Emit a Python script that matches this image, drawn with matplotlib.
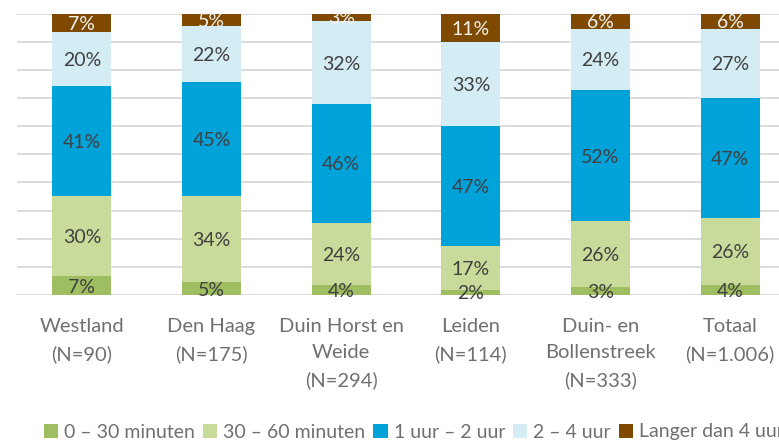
import matplotlib
matplotlib.use("Agg")
import matplotlib.pyplot as plt
from matplotlib.patches import Patch
import numpy as np

categories = ["Westland\n(N=90)", "Den Haag\n(N=175)", "Duin Horst en\nWeide\n(N=294)",
              "Leiden\n(N=114)", "Duin- en\nBollenstreek\n(N=333)", "Totaal\n(N=1.006)"]
series_names = ["0 – 30 minuten", "30 – 60 minuten", "1 uur – 2 uur", "2 – 4 uur", "Langer dan 4 uur"]
min_0_30 = [7, 5, 4, 2, 3, 4]
min_30_60 = [30, 34, 24, 17, 26, 26]
uur_1_2 = [41, 45, 46, 47, 52, 47]
uur_2_4 = [20, 22, 32, 33, 24, 27]
langer_4 = [7, 5, 3, 11, 6, 6]

colors = ["#9FBE62", "#C9DB9A", "#00A2DA", "#D4ECF4", "#7F4A00"]
label_colors = ["#404040", "#404040", "#404040", "#404040", "#F2F2F2"]

plt.rcParams['font.family'] = ['Lato', 'DejaVu Sans']
fig = plt.figure(figsize=(7.79, 4.43), dpi=100)
W, H = 779, 443
ax = fig.add_axes([17 / W, (H - 295) / H, (795 - 17) / W, (295 - 13.5) / H])

data = np.array([min_0_30, min_30_60, uur_1_2, uur_2_4, langer_4], dtype=float)
totals = data.sum(axis=0)
norm = data / totals
x = np.arange(len(categories))
bottom = np.zeros(len(categories))
for i in range(len(series_names)):
    ax.bar(x, norm[i], 0.455, bottom=bottom, color=colors[i], zorder=3, label=series_names[i])
    for j in range(len(categories)):
        ax.text(x[j], bottom[j] + norm[i][j] / 2, f"{int(data[i][j])}%", ha="center",
                va="center_baseline", fontsize=14, color=label_colors[i], zorder=4)
    bottom += norm[i]

ax.set_xlim(-0.5, 5.5)
ax.set_ylim(0, 1)
ax.set_yticks(np.arange(0, 1.01, 0.1))
ax.yaxis.grid(True, color="#D9D9D9", linewidth=1.3, zorder=0)
ax.tick_params(axis="y", left=False, labelleft=False)
ax.tick_params(axis="x", bottom=False, pad=13)
ax.set_xticks(x)
ax.set_xticklabels(categories, fontsize=14.5, color="#707070", linespacing=1.68)
for s in ax.spines.values():
    s.set_visible(False)

handles = [Patch(facecolor=c, edgecolor="none") for c in colors]
fig.legend(handles, series_names, loc="center left", bbox_to_anchor=(36 / W, (H - 432) / H),
           ncol=5, frameon=False, handlelength=0.75, handleheight=0.75,
           handletextpad=0.3, columnspacing=0.4, borderaxespad=0, labelcolor="#707070",
           prop={"size": 14})

fig.savefig("out.png", dpi=100)
